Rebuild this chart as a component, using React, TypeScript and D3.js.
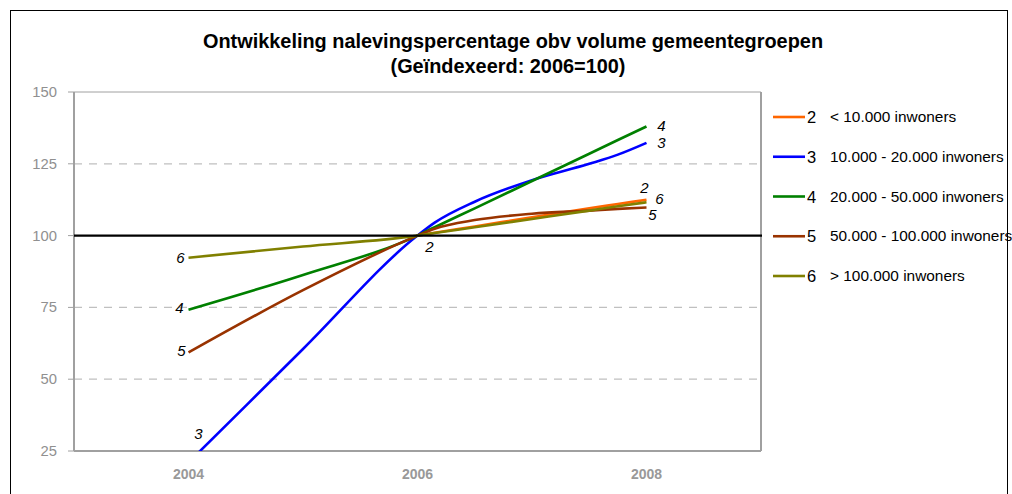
import React from 'react';
import * as d3 from 'd3';

const periods = [2004, 2005, 2006, 2006.15, 2006.5, 2007, 2007.5, 2007.75, 2008];
const seriesKeys = ['2', '3', '4', '5', '6'];
const legendLabels = [
  '< 10.000 inwoners',
  '10.000 - 20.000 inwoners',
  '20.000 - 50.000 inwoners',
  '50.000 - 100.000 inwoners',
  '> 100.000 inwoners',
];
const s2 = [null, null, 100, 101, 103.2, 106.4, 109.5, 111, 112.5];
const s3 = [21, 60.5, 100, 104.5, 111.8, 119.3, 125, 128.2, 132.3];
const s4 = [74.2, 86.3, 100, 102.9, 109.5, 119, 128.5, 133.3, 138];
const s5 = [59.3, 81, 100, 102.4, 105.4, 107.6, 108.7, 109.3, 109.8];
const s6 = [92.3, 96.2, 100, 100.9, 102.9, 105.8, 108.7, 110.2, 111.6];
const seriesValues = [s2, s3, s4, s5, s6];
const colors = ['#ff6600', '#0000ff', '#008000', '#993300', '#808000'];
const yTicks = [25, 50, 75, 100, 125, 150];
const xTickLabels = [2004, 2006, 2008];

// data-label annotations: series index, period index, offsets
const annotations = [
  { s: 4, p: 0, dx: -8, dy: 0 },
  { s: 2, p: 0, dx: -9, dy: -2 },
  { s: 3, p: 0, dx: -7, dy: -1 },
  { s: 1, p: 0, dx: 10, dy: 0 },
  { s: 0, p: 2, dx: 12, dy: 11 },
  { s: 2, p: 8, dx: 15, dy: 0 },
  { s: 1, p: 8, dx: 15, dy: 0 },
  { s: 0, p: 8, dx: -2, dy: -12 },
  { s: 4, p: 8, dx: 13, dy: -3 },
  { s: 3, p: 8, dx: 6, dy: 8 },
];

const FONT = '"Liberation Sans", Arial, sans-serif';

export default function App() {
  const W = 1012, H = 494;
  const left = 74, right = 761, top = 92, bottom = 451;
  const x = d3.scaleLinear().domain([2003, 2009]).range([left, right]);
  const y = d3.scaleLinear().domain([25, 150]).range([bottom, top]);

  const line = d3
    .line<[number, number | null]>()
    .defined((d) => d[1] != null)
    .x((d) => x(d[0]))
    .y((d) => y(d[1] as number))
    .curve(d3.curveMonotoneX);

  const legendY = d3.scaleLinear().domain([0, 4]).range([117, 276]);

  return (
    <div style={{ position: 'absolute', left: 0, top: 0 }}>
      <svg width={W} height={H} style={{ display: 'block', fontFamily: FONT }}>
        <rect x={0} y={0} width={W} height={H} fill="#fff" />
        <rect x={10.5} y={10.5} width={997} height={520} fill="none" stroke="#000" strokeWidth={1} />
        <defs>
          <clipPath id="plotclip">
            <rect x={left} y={top} width={right - left} height={bottom - top} />
          </clipPath>
        </defs>
        <text x={513} y={48} textAnchor="middle" fontWeight="bold" fontSize={19.9} fill="#000">
          Ontwikkeling nalevingspercentage obv volume gemeentegroepen
        </text>
        <text x={508} y={73} textAnchor="middle" fontWeight="bold" fontSize={19.9} fill="#000">
          (Geïndexeerd: 2006=100)
        </text>

        {/* gridlines */}
        {yTicks
          .filter((t) => t !== 100 && t !== 150 && t !== 25)
          .map((t) => (
            <line key={t} x1={left} x2={right} y1={y(t)} y2={y(t)} stroke="#c0c0c0" strokeWidth={1.2} strokeDasharray="8,7" />
          ))}
        {/* plot border */}
        <line x1={left} x2={right} y1={top} y2={top} stroke="#a0a0a0" strokeWidth={1} />
        <line x1={right} x2={right} y1={top} y2={bottom} stroke="#a0a0a0" strokeWidth={2} />
        <line x1={left} x2={right} y1={bottom} y2={bottom} stroke="#a0a0a0" strokeWidth={2} />
        <line x1={left} x2={left} y1={top} y2={bottom} stroke="#a0a0a0" strokeWidth={2} />
        {/* y ticks and labels */}
        {yTicks.map((t) => (
          <g key={t}>
            <line x1={left - 6} x2={left} y1={y(t)} y2={y(t)} stroke="#a0a0a0" strokeWidth={1} />
            <text x={57} y={y(t) + 5} textAnchor="end" fontSize={14.8} fill="#909090">
              {t}
            </text>
          </g>
        ))}
        {/* x labels */}
        {xTickLabels.map((t) => (
          <text key={t} x={x(t)} y={479} textAnchor="middle" fontSize={14} fontWeight="bold" fill="#999">
            {t}
          </text>
        ))}
        {/* series lines */}
        <g clipPath="url(#plotclip)">
          {seriesValues.map((vals, i) => (
            <path
              key={i}
              d={line(periods.map((p, j) => [p, vals[j]] as [number, number | null])) || ''}
              fill="none"
              stroke={colors[i]}
              strokeWidth={2.6}
              strokeLinejoin="round"
            />
          ))}
        </g>
        {/* 100 baseline */}
        <line x1={left} x2={right + 1} y1={y(100)} y2={y(100)} stroke="#000" strokeWidth={2.2} />
        {/* data labels */}
        {annotations.map((a, k) => {
          const v = seriesValues[a.s][a.p] as number;
          const below = v < 25;
          const px = x(periods[a.p]) + a.dx;
          const py = below ? y(25) - 17 : y(v) + a.dy;
          return (
            <text key={k} x={px} y={py + 5} textAnchor="middle" fontStyle="italic" fontSize={15} fill="#000">
              {seriesKeys[a.s]}
            </text>
          );
        })}
        {/* legend */}
        {seriesKeys.map((k, i) => (
          <g key={k}>
            <line x1={773} x2={805} y1={legendY(i)} y2={legendY(i)} stroke={colors[i]} strokeWidth={2.6} />
            <text x={807} y={legendY(i) + 6} fontSize={16.5} fill="#000">
              {k}
            </text>
            <text x={830} y={legendY(i) + 5} fontSize={15.4} fill="#000">
              {legendLabels[i]}
            </text>
          </g>
        ))}
      </svg>
    </div>
  );
}
